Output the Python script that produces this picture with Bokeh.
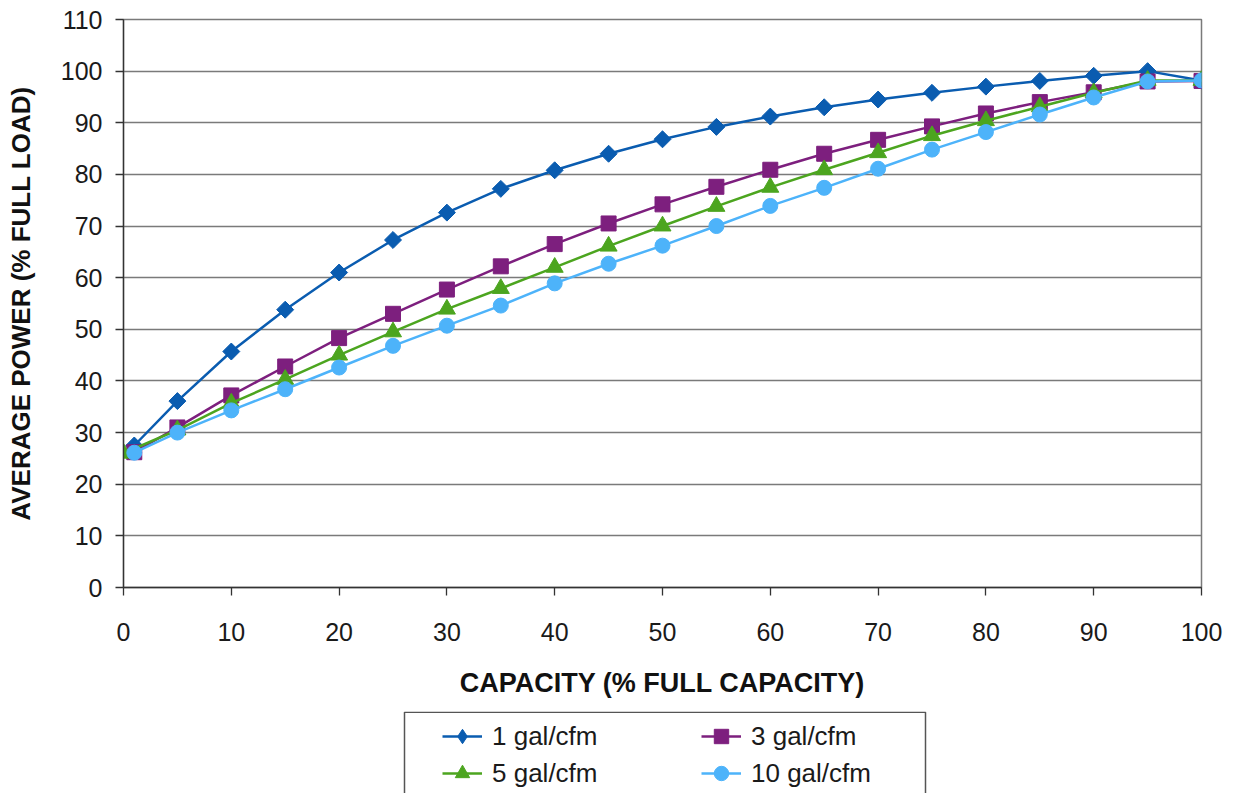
import numpy as np
from bokeh.plotting import figure
from bokeh.layouts import column
from bokeh.models import Range1d, FixedTicker, Legend, LegendItem, BoxAnnotation
from bokeh.embed import file_html
from bokeh.resources import INLINE

# ---- data ----
capacity = [1, 5, 10, 15, 20, 25, 30, 35, 40, 45, 50, 55, 60, 65, 70, 75, 80, 85, 90, 95, 100]
capacity_5 = [0, 5, 10, 15, 20, 25, 30, 35, 40, 45, 50, 55, 60, 65, 70, 75, 80, 85, 90, 95, 100]

power_1gal = [27.5, 36.1, 45.7, 53.8, 61.0, 67.3, 72.6, 77.2, 80.8, 84.0, 86.8, 89.2, 91.2,
              93.0, 94.5, 95.8, 97.0, 98.1, 99.1, 100.0, 98.2]
power_3gal = [26.2, 31.0, 37.2, 42.8, 48.3, 53.0, 57.7, 62.2, 66.5, 70.5, 74.2, 77.6, 80.9,
              84.0, 86.7, 89.3, 91.8, 94.0, 95.9, 98.0, 98.1]
power_5gal = [26.0, 30.5, 35.7, 40.3, 45.0, 49.5, 53.9, 57.9, 62.0, 66.1, 70.0, 73.8, 77.5,
              80.9, 84.2, 87.5, 90.4, 93.1, 95.8, 98.2, 98.2]
power_10gal = [26.1, 30.0, 34.3, 38.4, 42.6, 46.8, 50.7, 54.6, 58.9, 62.7, 66.2, 70.0, 73.9,
               77.4, 81.1, 84.8, 88.2, 91.6, 94.9, 98.0, 98.2]

series_labels = ["1 gal/cfm", "3 gal/cfm", "5 gal/cfm", "10 gal/cfm"]
x_ticks = list(range(0, 101, 10))
y_ticks = list(range(0, 111, 10))

FONT = "Liberation Sans"
colors = ["#0a5cb0", "#7d1f7e", "#4ca51f", "#4db3fa"]

# ---------------- main chart ----------------
p = figure(frame_width=1078, frame_height=568, output_backend="svg", toolbar_location=None,
           x_range=Range1d(0, 100), y_range=Range1d(0, 110),
           min_border_left=123, min_border_right=36, min_border_top=19, min_border_bottom=120)

p.background_fill_color = "white"
p.border_fill_color = "white"
p.outline_line_color = "#7a7a7a"
p.outline_line_width = 1.5

p.xgrid.visible = False
p.ygrid.ticker = FixedTicker(ticks=y_ticks)
p.ygrid.grid_line_color = "#7a7a7a"
p.ygrid.grid_line_width = 1.5

for ax in (p.xaxis[0], p.yaxis[0]):
    ax.axis_line_color = "#333333"
    ax.axis_line_width = 1.3
    ax.major_tick_line_color = "#333333"
    ax.major_tick_line_width = 1.3
    ax.major_tick_in = 0
    ax.major_tick_out = 8
    ax.minor_tick_line_color = None
    ax.major_label_text_font = FONT
    ax.major_label_text_font_size = "25px"
    ax.major_label_text_color = "#1a1a1a"
    ax.axis_label_text_font = FONT
    ax.axis_label_text_font_style = "bold"
    ax.axis_label_text_color = "#111111"

p.xaxis[0].axis_label_text_font_size = "27px"
p.yaxis[0].axis_label_text_font_size = "26px"
p.xaxis[0].ticker = FixedTicker(ticks=x_ticks)
p.yaxis[0].ticker = FixedTicker(ticks=y_ticks)
p.xaxis[0].axis_label = "CAPACITY (% FULL CAPACITY)"
p.yaxis[0].axis_label = "AVERAGE POWER (% FULL LOAD)"
p.xaxis[0].major_label_standoff = 27
p.xaxis[0].axis_label_standoff = 24
p.yaxis[0].major_label_standoff = 13
p.yaxis[0].axis_label_standoff = 22

p.line(capacity, power_1gal, line_color=colors[0], line_width=2.5)
p.scatter(capacity, power_1gal, marker="square", angle=np.pi / 4, size=12,
          fill_color=colors[0], line_color=colors[0])
p.line(capacity, power_3gal, line_color=colors[1], line_width=2.5)
p.scatter(capacity, power_3gal, marker="square", size=15,
          fill_color=colors[1], line_color=colors[1])
p.line(capacity_5, power_5gal, line_color=colors[2], line_width=2.5)
p.scatter(capacity_5, power_5gal, marker="triangle", size=17,
          fill_color=colors[2], line_color=colors[2])
p.line(capacity, power_10gal, line_color=colors[3], line_width=2.5)
p.scatter(capacity, power_10gal, marker="circle", size=15,
          fill_color=colors[3], line_color=colors[3])

# ---------------- legend strip (same frame width as the chart, so the column aligns) ----------------
lg = figure(frame_width=1078, frame_height=83, output_backend="svg", toolbar_location=None,
            x_range=Range1d(0, 1078), y_range=Range1d(0, 83),
            x_axis_location=None, y_axis_location=None,
            min_border_left=123, min_border_right=36, min_border_top=4, min_border_bottom=0)
lg.xgrid.visible = False
lg.ygrid.visible = False
lg.outline_line_color = None
lg.background_fill_color = "white"
lg.border_fill_color = "white"

# legend box border
lg.add_layout(BoxAnnotation(left=281, right=802, bottom=-20, top=82.2,
                            fill_alpha=0, line_color="#555555", line_alpha=1.0,
                            line_width=1.5))

markers = ["diamond", "square", "triangle", "circle"]
items = []
for lab, col, mk in zip(series_labels, colors, markers):
    # off-screen placeholder point so the legend glyphs get drawn
    rl = lg.line([-100, -90], [-100, -100], line_color=col, line_width=2.5)
    rm = lg.scatter([-100], [-100], marker=mk, fill_color=col, line_color=col)
    items.append(LegendItem(label=lab, renderers=[rl, rm]))

def make_legend(its, loc):
    return Legend(items=its, location=loc, orientation="vertical",
                  padding=0, spacing=1, glyph_width=40, glyph_height=36,
                  label_height=36, label_standoff=10,
                  label_text_font=FONT, label_text_font_size="26px",
                  label_text_color="#1a1a1a",
                  border_line_alpha=0, background_fill_alpha=0)

lg.add_layout(make_legend([items[0], items[2]], (319, 3)))
lg.add_layout(make_legend([items[1], items[3]], (578, 3)))

layout = column(p, lg, spacing=0)
open("out.html", "w").write(file_html(layout, INLINE))
